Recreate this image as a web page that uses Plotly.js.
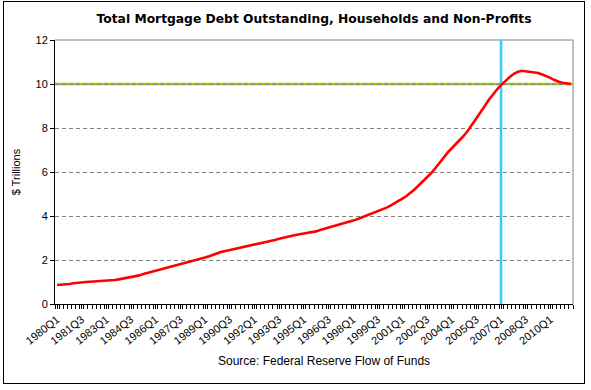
<!DOCTYPE html>
<html>
<head>
<meta charset="utf-8">
<script src="https://cdn.plot.ly/plotly-3.0.1.min.js"></script>
<style>
  html, body { margin: 0; padding: 0; background: #fff; }
  #wrap { position: relative; width: 591px; height: 390px; }
  #chart { width: 591px; height: 390px; }
  #frame { position: absolute; left: 3px; top: 1px; width: 580px; height: 381px; border: 1px solid #000; pointer-events: none; }
</style>
</head>
<body>
<div id="wrap"><div id="chart"></div><div id="frame"></div></div>
<script>
// Quarters 1980Q1 .. 2011Q2
const years = [];
for (let y = 1980; y <= 2011; y++) years.push(y);
const quarters = [];
years.forEach(y => { for (let q = 1; q <= 4; q++) quarters.push(y + 'Q' + q); });
quarters.splice(126);

// Total mortgage debt outstanding, $ trillions
const debt = [
  0.86, 0.87, 0.89, 0.91, 0.94, 0.97, 0.99, 1.00, 1.01, 1.02,
  1.02, 1.03, 1.05, 1.07, 1.09, 1.12, 1.15, 1.18, 1.22, 1.26,
  1.30, 1.36, 1.41, 1.46, 1.51, 1.55, 1.60, 1.66, 1.71, 1.76,
  1.80, 1.84, 1.88, 1.94, 2.00, 2.05, 2.11, 2.17, 2.24, 2.31,
  2.37, 2.41, 2.45, 2.49, 2.54, 2.59, 2.63, 2.67, 2.70, 2.74,
  2.77, 2.81, 2.86, 2.91, 2.97, 3.02, 3.06, 3.10, 3.14, 3.17,
  3.20, 3.23, 3.26, 3.30, 3.36, 3.41, 3.47, 3.52, 3.56, 3.61,
  3.67, 3.73, 3.79, 3.85, 3.92, 4.00, 4.08, 4.15, 4.22, 4.29,
  4.37, 4.46, 4.56, 4.67, 4.79, 4.91, 5.05, 5.22, 5.40, 5.58,
  5.76, 5.95, 6.17, 6.42, 6.66, 6.88, 7.08, 7.26, 7.45, 7.66,
  7.90, 8.16, 8.44, 8.72, 8.99, 9.27, 9.52, 9.75, 9.95, 10.14,
  10.30, 10.45, 10.55, 10.60, 10.57, 10.53, 10.52, 10.50, 10.43, 10.37,
  10.28, 10.18, 10.10, 10.06, 10.03, 10.00
];

// Tick labels every 6 quarters
const tickLabels = ['1980Q1','1981Q3','1983Q1','1984Q3','1986Q1','1987Q3','1989Q1','1990Q3',
  '1992Q1','1993Q3','1995Q1','1996Q3','1998Q1','1999Q3','2001Q1','2002Q3','2004Q1','2005Q3',
  '2007Q1','2008Q3','2010Q1'];

const refLevel = 10;          // horizontal reference line, $ trillions
const refQuarter = '2007Q1';  // vertical marker

const idx = quarters.map((q, i) => i);
const tickIdx = tickLabels.map(l => quarters.indexOf(l));
const refIdx = quarters.indexOf(refQuarter);

const font = 'Arial, "Liberation Sans", sans-serif';

const data = [{
  x: idx, y: debt, type: 'scatter', mode: 'lines',
  line: { color: '#FF0000', width: 2.6 },
  hoverinfo: 'skip'
}];

const layout = {
  width: 591, height: 390,
  margin: { l: 55, r: 18, t: 40, b: 86 },
  paper_bgcolor: '#FFFFFF', plot_bgcolor: '#FFFFFF',
  showlegend: false,
  font: { family: font, size: 11, color: '#000' },
  title: {
    text: '<b>Total Mortgage Debt Outstanding, Households and Non-Profits</b>',
    font: { family: '"DejaVu Sans", Verdana, sans-serif', size: 12.3, color: '#000' },
    x: 0.5, xref: 'paper', xanchor: 'center',
    y: 1 - 19 / 390, yref: 'container', yanchor: 'middle'
  },
  xaxis: {
    range: [-0.5, quarters.length - 0.5],
    tickmode: 'array', tickvals: tickIdx, ticktext: tickLabels,
    tickangle: -38, ticks: 'outside', ticklen: 4, tickcolor: '#000',
    tickfont: { family: font, size: 11, color: '#000' },
    minor: { tick0: -0.5, dtick: 1, ticks: 'outside', ticklen: 4, tickcolor: '#000', showgrid: false },
    showgrid: false, zeroline: false,
    showline: true, linecolor: '#000', linewidth: 1,
    fixedrange: true
  },
  yaxis: {
    range: [0, 12], dtick: 2, tick0: 0,
    ticks: 'outside', ticklen: 4, tickcolor: '#000',
    tickfont: { family: font, size: 11, color: '#000' },
    showgrid: true, gridcolor: '#808080', griddash: '4px,3px', gridwidth: 1,
    zeroline: false, showline: true, linecolor: '#000', linewidth: 1,
    title: { text: '$ Trillions', font: { family: font, size: 11, color: '#000' }, standoff: 12 },
    fixedrange: true
  },
  shapes: [
    // plot area top and right borders
    { type: 'line', xref: 'paper', yref: 'paper', x0: 0, x1: 1, y0: 1, y1: 1, line: { color: '#808080', width: 1 }, layer: 'below' },
    { type: 'line', xref: 'paper', yref: 'paper', x0: 1, x1: 1, y0: 0, y1: 1, line: { color: '#808080', width: 1 }, layer: 'below' },
    // horizontal reference
    { type: 'line', xref: 'paper', yref: 'y', x0: 0, x1: 1, y0: refLevel, y1: refLevel, line: { color: '#99CC00', width: 2.5 }, layer: 'below' },
    // vertical marker
    { type: 'line', xref: 'x', yref: 'paper', x0: refIdx, x1: refIdx, y0: 0, y1: 1, line: { color: '#33CCFF', width: 2.5 }, layer: 'below' }
  ],
  annotations: [{
    text: 'Source: Federal Reserve Flow of Funds',
    xref: 'paper', yref: 'paper', x: (323.5 - 55) / 518, y: (304 - 361) / 264,
    xanchor: 'center', yanchor: 'middle', showarrow: false,
    font: { family: font, size: 12, color: '#000' }
  }]
};

Plotly.newPlot('chart', data, layout, { displayModeBar: false, staticPlot: true });
</script>
</body>
</html>
